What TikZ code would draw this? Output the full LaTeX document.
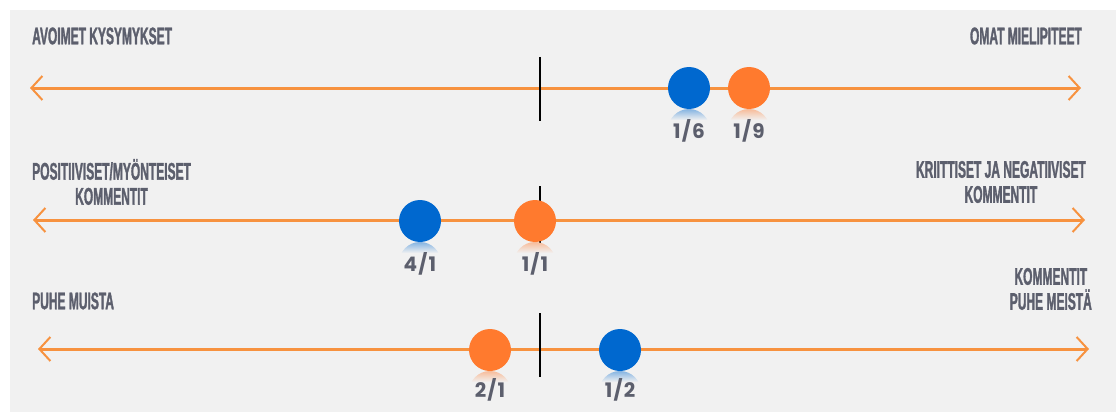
\documentclass[tikz,border=0pt]{standalone}
\usepackage{fontspec}
\usepackage{tikz}
\usetikzlibrary{arrows.meta,positioning}
\newfontfamily\headfont{Liberation Sans}[FakeStretch=0.5,FakeBold=1.3]
\newfontfamily\numfont{Poppins}[LetterSpace=6]
\definecolor{paper}{HTML}{F1F1F1}
\definecolor{axisorange}{HTML}{F7923F}
\definecolor{dotorange}{HTML}{FF7A2E}
\definecolor{dotblue}{HTML}{0068CF}
\definecolor{ink}{HTML}{5C5F6D}
\newcommand{\reflect}[2]{%
	\begin{scope}
		\clip ([yshift=-42pt]#1.center) circle (21pt);
		\shade[top color=#2!45!paper, bottom color=paper] ([xshift=-22pt,yshift=-21pt]#1.center) rectangle ([xshift=22pt,yshift=-32pt]#1.center);
	\end{scope}}

\begin{document}
\begin{tikzpicture}[x=1pt,y=-1pt,
	axis/.style={draw=axisorange,line width=3pt,{Straight Barb[length=11pt,width=24pt,line width=2pt]}-{Straight Barb[length=11pt,width=24pt,line width=2pt]}},
	zero/.style={draw=black,line width=1.5pt},
	dot/.style={shape=circle,fill=#1,minimum size=42pt,inner sep=0pt},
	num/.style={text=ink,font=\numfont\bfseries\fontsize{20}{22}\selectfont,inner sep=0pt},
	head/.style={text=ink,font=\headfont\bfseries\fontsize{24}{25}\selectfont,align=center,inner sep=0pt}]
	\useasboundingbox (0,0) rectangle (1116,412);
	\fill[paper] (10,10) rectangle (1116,412);

	\coordinate (a1l) at (30,88);
	\coordinate (a1r) at (1081,88);
	\coordinate (a2l) at (33,220);
	\coordinate (a2r) at (1085,220);
	\coordinate (a3l) at (38,349);
	\coordinate (a3r) at (1089,349);
	\path[axis] (a1l) -- (a1r);
	\path[axis] (a2l) -- (a2r);
	\path[axis] (a3l) -- (a3r);

	\coordinate (z1) at (540,88);
	\coordinate (z2) at (540,220);
	\coordinate (z3) at (540,349);
	\draw[zero] ([yshift=31pt]z1) -- ([yshift=-33pt]z1);
	\draw[zero] ([yshift=34pt]z2) -- ([yshift=-30pt]z2);
	\draw[zero] ([yshift=36pt]z3) -- ([yshift=-28pt]z3);

	\node[dot=dotblue] (b1) at (689,88) {};
	\node[dot=dotorange] (o1) at (749,88) {};
	\node[dot=dotblue] (b2) at (420,221) {};
	\node[dot=dotorange] (o2) at (535,221) {};
	\node[dot=dotorange] (o3) at (490,350) {};
	\node[dot=dotblue] (b3) at (620,350) {};
	\reflect{b1}{dotblue}
	\reflect{o1}{dotorange}
	\reflect{b2}{dotblue}
	\reflect{o2}{dotorange}
	\reflect{o3}{dotorange}
	\reflect{b3}{dotblue}

	\node[num] (b1n) at (689,131) {1/6};
	\node[num] (o1n) at (749,131) {1/9};
	\node[num] (b2n) at (420,264) {4/1};
	\node[num] (o2n) at (535,264) {1/1};
	\node[num] (o3n) at (490,390) {2/1};
	\node[num] (b3n) at (620,390) {1/2};

	\node[head,anchor=west] (h1l) at (32,36) {AVOIMET KYSYMYKSET};
	\node[head,anchor=east] (h1r) at (1082,36) {OMAT MIELIPITEET};
	\node[head,anchor=west] (h2l) at (32,182) {POSITIIVISET/MYÖNTEISET\\KOMMENTIT};
	\node[head,anchor=east] (h2r) at (1086,182) {KRIITTISET JA NEGATIIVISET\\KOMMENTIT};
	\node[head,anchor=west] (h3l) at (32,301) {PUHE MUISTA};
	\node[head,anchor=east] (h3r) at (1092,289) {KOMMENTIT\\PUHE MEISTÄ};
\end{tikzpicture}
\end{document}
